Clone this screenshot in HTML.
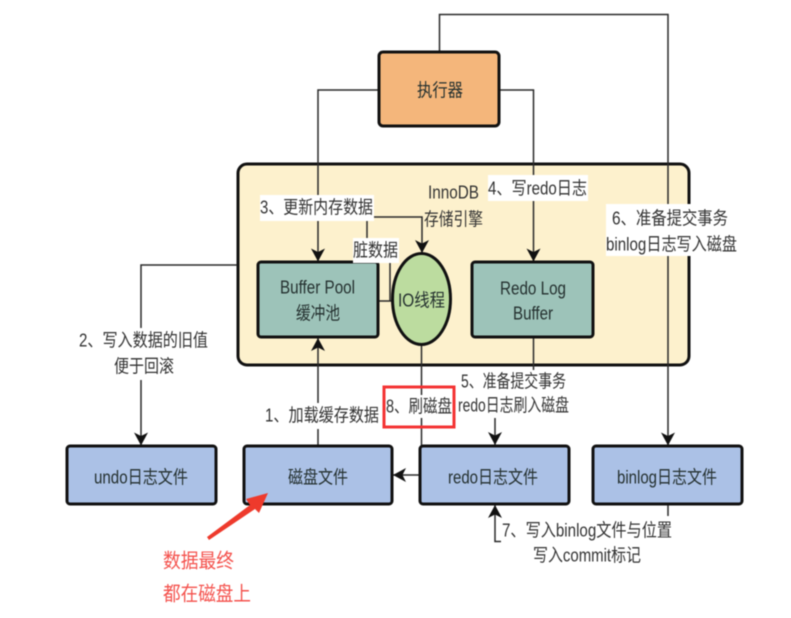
<!DOCTYPE html>
<html>
<head>
<meta charset="utf-8">
<style>
html,body{margin:0;padding:0;background:#fff;width:791px;height:618px;overflow:hidden}
svg{display:block;filter:blur(.5px)}
text{font-family:"Liberation Sans","Noto Sans CJK SC",sans-serif;font-size:18px;fill:#333;transform:translateY(.5px)}
.d{fill:#24302f}
.r{fill:#f4524d;font-size:20px}
.ln{fill:none;stroke:#2a2a2a;stroke-width:1.5}
.box{stroke:#111;stroke-width:3}
</style>
</head>
<body>
<svg width="791" height="618" viewBox="0 0 791 618" xmlns="http://www.w3.org/2000/svg">
<defs>
<marker id="a" markerUnits="userSpaceOnUse" markerWidth="16" markerHeight="16" refX="13" refY="7" orient="auto">
<path d="M0 0L13 7L0 14L3.5 7Z" fill="#111"/>
</marker>
</defs>

<!-- engine container -->
<rect x="238" y="164" width="451" height="201" rx="9" fill="#fdf1cd" class="box"/>

<!-- connectors -->
<path class="ln" d="M439.5 51V14.5H668V445.5" marker-end="url(#a)"/>
<path class="ln" d="M378 90H318V261.5" marker-end="url(#a)"/>
<path class="ln" d="M499 90H533.5V261.5" marker-end="url(#a)"/>
<path class="ln" d="M237 265H141V445.5" marker-end="url(#a)"/>
<path class="ln" d="M318 446V338" marker-end="url(#a)"/>
<path class="ln" d="M373 217H422V253" marker-end="url(#a)"/>
<path class="ln" d="M367 217V240"/>
<path class="ln" d="M378 301H392M390 262V301"/>
<path class="ln" d="M421.5 345V446"/>
<path class="ln" d="M419 475H393" marker-end="url(#a)"/>
<path class="ln" d="M533.5 337V370"/>
<path class="ln" d="M495 418V445" marker-end="url(#a)"/>
<path class="ln" d="M501 541.5H495V505" marker-end="url(#a)"/>
<path class="ln" d="M668 504V516"/>

<!-- nodes -->
<rect x="379" y="52" width="120" height="74" rx="4" fill="#f4b67b" class="box"/>
<rect x="258" y="262" width="120" height="75" rx="3" fill="#9dc3b9" class="box"/>
<rect x="472" y="262" width="121" height="75" rx="3" fill="#9dc3b9" class="box"/>
<ellipse cx="421.5" cy="299" rx="29" ry="45.5" fill="#bcdc9f" class="box"/>
<rect x="67" y="446" width="149" height="58" rx="3" fill="#abc1e6" class="box"/>
<rect x="244" y="446" width="148" height="58" rx="3" fill="#abc1e6" class="box"/>
<rect x="420" y="446" width="149" height="58" rx="3" fill="#abc1e6" class="box"/>
<rect x="593" y="446" width="149" height="58" rx="3" fill="#abc1e6" class="box"/>

<!-- label backgrounds -->
<rect x="260" y="195" width="114" height="26" fill="#fff"/>
<rect x="488" y="175" width="100" height="26" fill="#fff"/>
<rect x="606" y="204" width="132" height="52" fill="#fff"/>
<rect x="353" y="238" width="46" height="25" fill="#fff"/>
<rect x="79" y="328" width="130" height="52" fill="#fff"/>
<rect x="265" y="403" width="115" height="26" fill="#fff"/>
<rect x="458" y="370" width="112" height="48" fill="#fff"/>
<rect x="386" y="395" width="67" height="23" fill="#fff"/>
<rect x="502" y="518" width="171" height="50" fill="#fff"/>

<!-- labels -->
<text x="417" y="96" textLength="46" lengthAdjust="spacingAndGlyphs" class="d">执行器</text>
<text x="428" y="198" textLength="51" lengthAdjust="spacingAndGlyphs">InnoDB</text>
<text x="424" y="225" textLength="59" lengthAdjust="spacingAndGlyphs">存储引擎</text>
<text x="260" y="213" textLength="113" lengthAdjust="spacingAndGlyphs">3、更新内存数据</text>
<text x="488" y="194" textLength="99" lengthAdjust="spacingAndGlyphs">4、写redo日志</text>
<text x="612" y="224" textLength="116" lengthAdjust="spacingAndGlyphs">6、准备提交事务</text>
<text x="606" y="250" textLength="131" lengthAdjust="spacingAndGlyphs">binlog日志写入磁盘</text>
<text x="353" y="256" textLength="45" lengthAdjust="spacingAndGlyphs">脏数据</text>
<text x="280" y="293" textLength="75" lengthAdjust="spacingAndGlyphs" class="d">Buffer Pool</text>
<text x="296" y="319" textLength="44" lengthAdjust="spacingAndGlyphs" class="d">缓冲池</text>
<text x="398" y="306" textLength="47" lengthAdjust="spacingAndGlyphs" class="d">IO线程</text>
<text x="500" y="294" textLength="66" lengthAdjust="spacingAndGlyphs" class="d">Redo Log</text>
<text x="513" y="319" textLength="40" lengthAdjust="spacingAndGlyphs" class="d">Buffer</text>
<text x="79" y="346" textLength="129" lengthAdjust="spacingAndGlyphs">2、写入数据的旧值</text>
<text x="114" y="372" textLength="60" lengthAdjust="spacingAndGlyphs">便于回滚</text>
<text x="265" y="421" textLength="114" lengthAdjust="spacingAndGlyphs">1、加载缓存数据</text>
<text x="386" y="412" textLength="66" lengthAdjust="spacingAndGlyphs">8、刷磁盘</text>
<text x="461" y="387" textLength="105" lengthAdjust="spacingAndGlyphs">5、准备提交事务</text>
<text x="458" y="411" textLength="111" lengthAdjust="spacingAndGlyphs">redo日志刷入磁盘</text>
<text x="94" y="483" textLength="94" lengthAdjust="spacingAndGlyphs" class="d">undo日志文件</text>
<text x="288" y="483" textLength="60" lengthAdjust="spacingAndGlyphs" class="d">磁盘文件</text>
<text x="448" y="483" textLength="90" lengthAdjust="spacingAndGlyphs" class="d">redo日志文件</text>
<text x="617" y="483" textLength="100" lengthAdjust="spacingAndGlyphs" class="d">binlog日志文件</text>
<text x="502" y="536" textLength="170" lengthAdjust="spacingAndGlyphs">7、写入binlog文件与位置</text>
<text x="533" y="561" textLength="108" lengthAdjust="spacingAndGlyphs">写入commit标记</text>

<!-- red annotation -->
<rect x="384" y="387" width="70" height="40" fill="none" stroke="#f43333" stroke-width="3"/>
<path d="M207 537L250 505L246 499L268 493L259 513L255 509L209 540Z" fill="#ee3a2c"/>
<text x="163" y="567" textLength="71" lengthAdjust="spacingAndGlyphs" class="r">数据最终</text>
<text x="163" y="600" textLength="88" lengthAdjust="spacingAndGlyphs" class="r">都在磁盘上</text>
</svg>
</body>
</html>
